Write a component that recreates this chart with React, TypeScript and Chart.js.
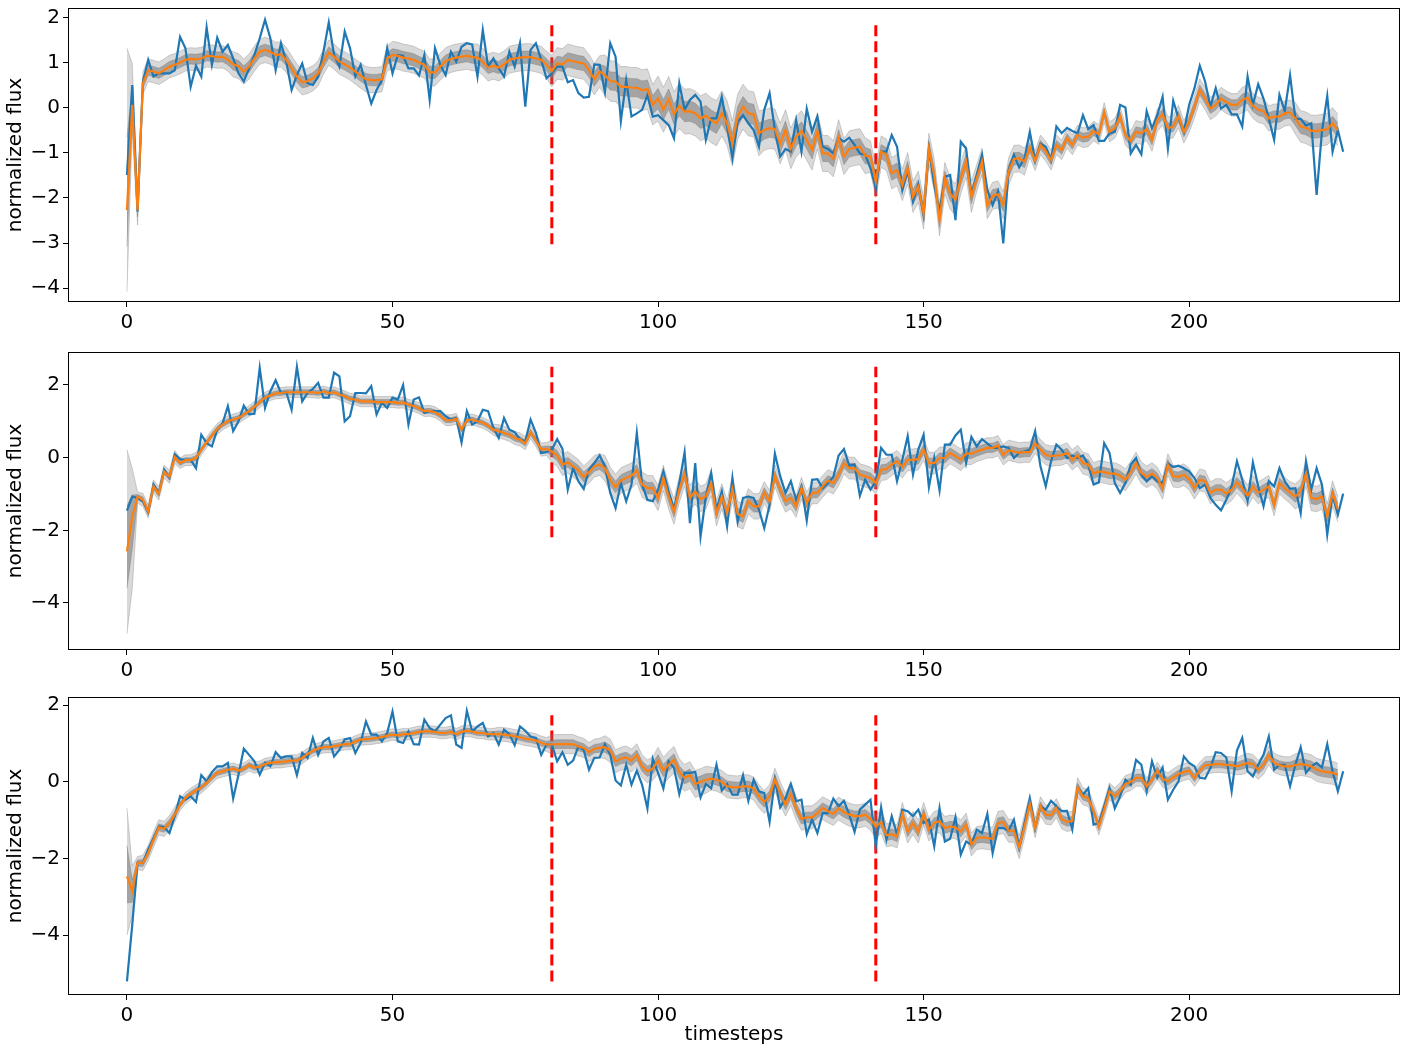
import React, { useEffect, useRef } from 'react';
import { Chart, registerables } from 'chart.js';

Chart.register(...registerables);
Chart.defaults.font.family = 'DejaVu Sans';
Chart.defaults.color = '#000';

// ---------- data ----------
const xTicks = [0, 50, 100, 150, 200];
const redX = [80, 141];

// panel 1
const p1Blue = [
  -1.49, 0.51, -2.3, 0.58, 1.07, 0.7, 0.77, 0.77, 0.77, 0.84,
  1.58, 1.33, 0.47, 0.94, 0.7, 1.79, 0.96, 1.56, 1.25, 1.4,
  1.1, 0.77, 0.59, 0.88, 1.18, 1.55, 1.96, 1.55, 0.84, 1.44,
  1.03, 0.4, 0.73, 0.99, 0.55, 0.51, 0.7, 1.25, 1.9, 1.18,
  0.92, 1.7, 1.33, 0.7, 0.96, 0.51, 0.1, 0.4, 0.62, 1.33,
  0.77, 1.18, 1.16, 0.88, 0.88, 0.72, 1.18, 0.18, 1.33, 0.96,
  0.73, 1.25, 1.03, 1.36, 1.44, 1.41, 0.7, 1.73, 0.92, 1.1,
  0.88, 0.7, 1.25, 0.92, 1.44, 0.03, 1.29, 1.44, 1.07, 0.66,
  0.77, 0.92, 0.92, 0.57, 0.62, 0.33, 0.23, 0.25, 0.97, 0.96,
  0.35, 1.44, 1.14, -0.29, 0.62, -0.19, -0.12, -0.04, 0.29, -0.19,
  -0.16, -0.27, -0.38, -0.67, 0.55, -0.04, 0.18, 0.29, 0.14, -0.71,
  -0.23, -0.23, 0.25, -0.41, -1.12, -0.3, -0.16, -0.34, -0.49, -0.86,
  -0.04, 0.33, -0.49, -1.08, -0.91, -0.97, -0.27, -0.97, -0.02, -0.53,
  -0.19, -0.86, -0.91, -1.01, -0.67, -0.75, -0.66, -0.82, -1.01, -1.04,
  -1.34, -1.79, -0.97, -0.97, -0.6, -0.86, -1.82, -1.38, -2.08, -1.71,
  -2.38, -0.9, -1.71, -2.3, -1.53, -1.49, -2.49, -0.75, -0.9, -1.93,
  -1.49, -1.04, -1.82, -2.16, -1.86, -3.01, -1.38, -1.04, -1.32, -1.12,
  -0.53, -1.16, -0.79, -0.86, -1.16, -0.41, -0.56, -0.44, -0.51, -0.56,
  -0.16, -0.47, -0.38, -0.73, -0.73, -0.56, -0.53, 0.07, 0.01, -1.01,
  -0.82, -1.03, -0.07, -0.45, -0.16, 0.25, -0.9, 0.16, -0.23, -0.53,
  0.07, 0.44, 0.94, 0.59, 0.03, 0.44, -0.01, 0.07, -0.14, -0.14,
  -0.41, 0.7, 0.07, 0.53, 0.21, -0.23, -0.71, 0.29, -0.07, 0.73,
  -0.24, -0.24, -0.39, -0.34, -1.93, -0.53, 0.27, -0.97, -0.49, -0.97,
];
const p1Mean = [
  -2.27, 0.07, -2.27, 0.55, 0.84, 0.81, 0.77, 0.84, 0.92, 0.96,
  1.01, 1.07, 1.09, 1.08, 1.1, 1.16, 1.15, 1.13, 1.14, 1.07,
  0.97, 0.93, 0.81, 0.92, 1.1, 1.25, 1.29, 1.25, 1.18, 1.19,
  1.07, 0.88, 0.7, 0.57, 0.6, 0.66, 0.77, 1.03, 1.23, 1.14,
  1.03, 0.97, 0.9, 0.81, 0.72, 0.64, 0.62, 0.62, 0.64, 1.1,
  1.18, 1.16, 1.12, 1.1, 1.07, 1.01, 0.96, 0.79, 0.79, 0.92,
  1.04, 1.09, 1.12, 1.14, 1.16, 1.13, 1.12, 1.03, 0.9, 0.94,
  0.9, 0.97, 1.07, 1.1, 1.12, 1.13, 1.13, 1.1, 1.07, 0.96,
  0.82, 0.99, 0.97, 1.07, 1.04, 1.01, 0.99, 0.84, 0.64, 0.81,
  0.73, 0.6, 0.59, 0.47, 0.47, 0.45, 0.45, 0.4, 0.42, 0.07,
  0.21, -0.04, 0.2, -0.14, 0.05, -0.08, -0.07, -0.12, -0.23, -0.17,
  -0.27, -0.34, -0.12, -0.34, -0.79, -0.19, 0.03, -0.12, -0.14, -0.56,
  -0.49, -0.45, -0.47, -0.79, -0.49, -0.9, -0.64, -0.51, -0.71, -0.93,
  -0.51, -1.01, -1.01, -1.13, -0.66, -1.08, -0.91, -0.88, -0.86, -1.06,
  -1.08, -1.64, -0.97, -1.04, -1.45, -1.38, -1.71, -1.34, -1.97, -1.75,
  -2.34, -0.91, -1.49, -2.49, -1.56, -1.9, -2.04, -1.56, -1.19, -1.97,
  -1.56, -1.19, -2.16, -1.95, -1.92, -2.16, -1.41, -1.13, -1.12, -1.19,
  -0.88, -1.17, -0.82, -0.96, -1.16, -0.82, -0.93, -0.67, -0.82, -0.6,
  -0.66, -0.64, -0.51, -0.59, -0.1, -0.53, -0.45, -0.19, -0.6, -0.73,
  -0.53, -0.56, -0.47, -0.71, -0.27, -0.14, -0.45, -0.41, -0.19, -0.53,
  -0.3, 0.03, 0.4, 0.21, -0.01, 0.07, 0.21, 0.13, 0.07, 0.07,
  0.18, 0.23, 0.05, -0.04, -0.07, -0.23, -0.19, -0.19, -0.12, -0.1,
  -0.23, -0.41, -0.44, -0.51, -0.51, -0.49, -0.47, -0.34, -0.49,
];
// half-width of the sample spread, one value per 10 timesteps
const p1Spread = [0.25, 0.25, 0.28, 0.28, 0.28, 0.3, 0.3, 0.3, 0.35, 0.45, 0.5, 0.5, 0.45, 0.4, 0.35, 0.35, 0.3, 0.22, 0.22, 0.25, 0.25, 0.28, 0.35];
const p1HeadHi = [1.33, 0.99, -1.95];
const p1HeadLo = [-4.08, -0.5, -2.6];
const p1Red = [-3.03, 1.93];
const p1YTicks = [-4, -3, -2, -1, 0, 1, 2];

// panel 2
const p2Blue = [
  -1.46, -1.07, -1.11, -1.2, -1.51, -0.74, -0.97, -0.33, -0.56, 0.1,
  -0.04, -0.06, -0.06, -0.29, 0.63, 0.4, 0.31, 0.77, 0.94, 1.42,
  0.73, 1.0, 1.43, 1.19, 1.21, 2.47, 1.37, 1.83, 2.13, 1.78,
  1.8, 1.32, 2.5, 1.55, 1.78, 1.89, 2.06, 1.65, 1.65, 2.34,
  2.24, 1.0, 1.14, 1.78, 1.78, 1.77, 1.97, 1.19, 1.51, 1.37,
  1.65, 1.6, 2.0, 0.91, 1.6, 1.66, 1.23, 1.28, 1.28, 1.28,
  1.14, 1.05, 1.09, 0.42, 1.28, 0.91, 1.0, 1.32, 1.28, 0.82,
  0.54, 1.09, 0.77, 0.7, 0.5, 0.45, 1.05, 0.68, 0.13, 0.15,
  0.22, 0.51, 0.24, -0.88, -0.29, -0.65, -0.86, -0.33, -0.15, 0.06,
  -0.24, -0.97, -1.39, -0.7, -1.2, -0.74, 0.68, -0.74, -1.16, -1.2,
  -0.88, -0.38, -0.93, -1.43, -0.7, 0.15, -1.8, -0.15, -2.17, -1.07,
  -0.42, -1.43, -0.93, -1.89, -0.56, -1.76, -1.11, -1.07, -1.11, -1.43,
  -1.94, -1.3, 0.11, -0.51, -0.97, -0.65, -1.16, -0.79, -1.73, -0.61,
  -0.59, -0.84, -0.7, -0.53, 0.06, 0.24, -0.22, -0.19, -1.05, -0.61,
  -0.88, -0.65, 0.27, 0.08, 0.08, -0.65, -0.06, 0.59, -0.47, 0.22,
  0.63, -0.81, -0.01, -0.9, 0.36, 0.36, 0.61, 0.77, -0.15, 0.57,
  0.31, 0.51, 0.39, 0.27, 0.27, 0.31, 0.27, -0.01, 0.13, 0.17,
  0.22, 0.73, -0.24, -0.79, -0.1, 0.36, 0.22, -0.01, 0.06, -0.01,
  0.06, -0.19, -0.74, -0.68, 0.4, 0.13, -0.7, -0.97, -0.7, -0.19,
  -0.01, -0.47, -0.65, -0.51, -0.65, -0.7, -0.15, -0.26, -0.22, -0.29,
  -0.38, -0.56, -0.84, -0.74, -1.11, -1.3, -1.45, -1.16, -0.79, -0.1,
  -0.61, -1.2, -0.13, -0.79, -1.34, -0.65, -0.79, -0.29, -0.65, -0.86,
  -0.84, -1.53, -0.1, -0.88, -0.29, -0.74, -2.12, -1.02, -1.57, -0.99,
];
const p2Mean = [
  -2.58, -1.62, -1.07, -1.16, -1.48, -0.79, -0.99, -0.38, -0.53, 0.02,
  -0.15, -0.07, -0.07, -0.01, 0.22, 0.42, 0.61, 0.79, 0.91, 1.0,
  1.05, 1.09, 1.19, 1.28, 1.4, 1.53, 1.65, 1.72, 1.77, 1.78,
  1.8, 1.8, 1.8, 1.8, 1.8, 1.8, 1.78, 1.82, 1.78, 1.8,
  1.74, 1.69, 1.62, 1.6, 1.55, 1.55, 1.55, 1.53, 1.53, 1.53,
  1.53, 1.51, 1.52, 1.46, 1.42, 1.36, 1.28, 1.29, 1.25, 1.16,
  1.03, 1.03, 1.07, 0.77, 1.03, 1.05, 1.0, 0.96, 0.88, 0.77,
  0.73, 0.68, 0.63, 0.54, 0.5, 0.4, 0.7, 0.48, 0.22, 0.24,
  0.17, 0.06, -0.19, -0.13, -0.24, -0.35, -0.53, -0.4, -0.24, -0.19,
  -0.29, -0.61, -0.81, -0.63, -0.56, -0.5, -0.35, -0.74, -0.84, -0.84,
  -1.11, -0.56, -1.07, -1.48, -0.88, -0.44, -1.11, -0.93, -1.14, -1.07,
  -0.7, -1.53, -1.07, -1.53, -0.86, -1.55, -1.62, -1.2, -1.34, -1.34,
  -0.96, -1.2, -0.5, -0.88, -1.2, -1.11, -1.34, -0.84, -1.25, -0.97,
  -0.97, -0.79, -0.63, -0.7, -0.47, -0.15, -0.29, -0.29, -0.47, -0.51,
  -0.56, -0.7, -0.33, -0.31, -0.19, -0.1, -0.26, -0.06, -0.06, -0.04,
  0.22, -0.15, -0.15, -0.01, -0.01, 0.13, 0.04, -0.06, 0.11, 0.11,
  0.17, 0.22, 0.27, 0.27, 0.33, 0.08, 0.2, 0.17, 0.13, 0.15,
  0.15, 0.4, 0.22, 0.08, 0.04, 0.06, 0.07, 0.13, -0.06, 0.06,
  -0.15, -0.19, -0.44, -0.38, -0.4, -0.44, -0.44, -0.5, -0.61, -0.4,
  -0.15, -0.42, -0.53, -0.44, -0.56, -0.84, -0.19, -0.51, -0.53, -0.47,
  -0.59, -0.84, -0.61, -0.65, -0.97, -0.88, -0.88, -0.99, -0.88, -0.68,
  -0.84, -1.05, -0.79, -0.97, -0.88, -0.79, -1.3, -0.7, -0.84, -0.96,
  -1.07, -0.93, -0.44, -1.11, -1.14, -1.07, -1.62, -0.99, -1.42,
];
const p2Spread = [0.18, 0.15, 0.15, 0.15, 0.15, 0.15, 0.15, 0.18, 0.3, 0.35, 0.35, 0.35, 0.3, 0.3, 0.3, 0.3, 0.28, 0.28, 0.3, 0.3, 0.3, 0.3, 0.35];
const p2HeadHi = [0.22, -0.3, -0.95];
const p2HeadLo = [-4.85, -3.6, -1.25];
const p2Red = [-2.19, 2.5];
const p2YTicks = [-4, -2, 0, 2];

// panel 3
const p3Blue = [
  -5.21, -3.73, -2.12, -2.12, -1.77, -1.47, -1.17, -1.19, -1.34, -0.9,
  -0.38, -0.47, -0.38, -0.53, 0.17, 0.01, 0.25, 0.4, 0.4, 0.49,
  -0.44, 0.18, 0.86, 0.7, 0.53, 0.18, 0.49, 0.4, 0.77, 0.62,
  0.66, 0.66, 0.17, 0.75, 0.62, 1.14, 0.7, 1.05, 1.14, 0.66,
  0.83, 1.1, 1.14, 0.75, 1.01, 1.57, 1.23, 1.23, 1.05, 1.27,
  1.83, 1.05, 1.01, 1.31, 0.98, 0.97, 1.62, 1.4, 1.31, 1.49,
  1.66, 1.73, 0.97, 0.88, 1.85, 1.31, 1.44, 1.53, 1.18, 1.27,
  0.97, 1.36, 1.24, 0.95, 1.44, 1.33, 1.18, 1.14, 0.7, 0.97,
  0.97, 0.53, 0.77, 0.44, 0.55, 0.92, 0.83, 0.31, 0.62, 0.63,
  0.97, 0.7, 0.03, -0.1, 0.44, -0.08, 0.29, -0.08, -0.7, 0.6,
  0.23, -0.18, 0.53, 0.36, -0.32, 0.23, 0.23, 0.25, -0.41, -0.06,
  -0.17, 0.44, -0.23, -0.06, -0.34, -0.34, 0.17, -0.5, 0.05, -0.25,
  -0.3, -1.05, 0.05, -0.67, -0.43, -0.06, -0.51, -0.47, -1.37, -0.99,
  -1.34, -0.82, -0.82, -0.44, -0.64, -0.5, -0.86, -1.31, -0.73, -0.6,
  -0.47, -1.69, -0.67, -1.51, -0.9, -1.38, -0.73, -0.77, -0.9, -0.73,
  -1.08, -0.99, -1.69, -0.69, -1.56, -1.49, -0.93, -1.9, -1.56, -1.64,
  -1.25, -1.34, -0.84, -1.86, -1.21, -1.21, -1.28, -0.99, -1.71, -1.08,
  -0.44, -1.21, -0.64, -0.73, -0.5, -0.64, -0.77, -0.76, -1.25, -0.15,
  -0.34, -0.17, -1.12, -1.08, -0.64, -0.17, -0.7, -0.38, 0.05, -0.08,
  0.57, 0.44, -0.25, 0.53, 0.1, 0.37, -0.47, -0.21, 0.01, 0.66,
  0.49, 0.4, 0.1, 0.08, 0.36, 0.77, 0.75, 0.63, -0.25, 0.81,
  1.14, 0.27, 0.14, 0.44, 0.7, 1.18, 0.31, 0.44, 0.44, -0.12,
  0.44, 0.9, 0.23, 0.4, 0.49, 0.37, 0.98, 0.27, -0.25, 0.27,
];
const p3Mean = [
  -2.47, -2.86, -2.12, -2.12, -1.86, -1.51, -1.19, -1.23, -1.08, -0.86,
  -0.6, -0.43, -0.32, -0.23, -0.15, -0.03, 0.11, 0.23, 0.27, 0.31,
  0.34, 0.29, 0.34, 0.43, 0.37, 0.39, 0.46, 0.49, 0.51, 0.51,
  0.53, 0.55, 0.55, 0.62, 0.72, 0.81, 0.86, 0.9, 0.9, 0.92,
  0.95, 0.98, 0.98, 1.05, 1.1, 1.11, 1.12, 1.14, 1.16, 1.2,
  1.23, 1.21, 1.24, 1.24, 1.27, 1.3, 1.31, 1.31, 1.3, 1.27,
  1.27, 1.3, 1.24, 1.3, 1.33, 1.31, 1.27, 1.27, 1.24, 1.24,
  1.24, 1.23, 1.21, 1.18, 1.16, 1.12, 1.1, 1.07, 1.01, 0.97,
  0.97, 0.98, 0.98, 0.98, 0.98, 0.92, 0.88, 0.77, 0.86, 0.88,
  0.9, 0.81, 0.53, 0.6, 0.63, 0.55, 0.69, 0.4, 0.27, 0.34,
  0.55, 0.29, 0.44, 0.57, 0.25, 0.1, 0.17, -0.06, -0.01, 0.05,
  0.08, 0.05, -0.01, -0.12, -0.14, -0.15, -0.12, -0.12, -0.18, -0.38,
  -0.53, -0.38, 0.05, -0.3, -0.6, -0.32, -0.69, -0.97, -0.93, -0.93,
  -0.82, -0.69, -0.77, -0.84, -0.7, -0.79, -0.86, -0.9, -0.9, -0.86,
  -0.97, -1.17, -1.05, -1.4, -1.37, -1.43, -0.84, -1.3, -1.08, -1.3,
  -0.84, -1.25, -1.08, -1.03, -1.21, -1.17, -1.19, -1.3, -1.12, -1.64,
  -1.47, -1.45, -1.47, -1.49, -1.08, -1.05, -1.28, -1.28, -1.71, -1.17,
  -0.58, -1.21, -0.64, -0.86, -0.88, -0.69, -0.98, -1.05, -1.02, -0.15,
  -0.38, -0.43, -0.77, -1.17, -0.73, -0.25, -0.38, -0.25, -0.06, -0.01,
  0.1, 0.1, -0.12, 0.05, 0.29, 0.08, 0.01, 0.11, 0.2, 0.25,
  0.29, 0.1, 0.29, 0.43, 0.44, 0.46, 0.46, 0.44, 0.43, 0.4,
  0.44, 0.49, 0.46, 0.31, 0.44, 0.69, 0.49, 0.43, 0.4, 0.4,
  0.43, 0.46, 0.44, 0.4, 0.31, 0.27, 0.25, 0.23, 0.18,
];
const p3Spread = [0.2, 0.15, 0.15, 0.15, 0.15, 0.15, 0.15, 0.18, 0.25, 0.3, 0.35, 0.3, 0.3, 0.3, 0.3, 0.3, 0.3, 0.25, 0.22, 0.22, 0.22, 0.25, 0.3];
const p3HeadHi = [-0.69, -2.2, -1.95];
const p3HeadLo = [-4.0, -3.5, -2.3];
const p3Red = [-5.21, 1.73];
const p3YTicks = [-4, -2, 0, 2];

// ---------- layout / styling ----------
const W = 1411;
const X_MIN = -11.1;
const X_MAX = 239.7;
const FONT = { family: 'DejaVu Sans', size: 20 };
const BLUE = '#1f77b4';
const ORANGE = '#ff7f0e';

type PanelCfg = {
  top: number; height: number; padTop: number; xAxisH: number;
  yMin: number; yMax: number; yTicks: number[]; xTitle: boolean;
  blue: number[]; mean: number[]; spread: number[]; headHi: number[]; headLo: number[]; red: number[];
};

const panels: PanelCfg[] = [
  { top: 0, height: 345, padTop: 8, xAxisH: 43, yMin: -4.311, yMax: 2.222, yTicks: p1YTicks, xTitle: false,
    blue: p1Blue, mean: p1Mean, spread: p1Spread, headHi: p1HeadHi, headLo: p1HeadLo, red: p1Red },
  { top: 345, height: 350, padTop: 7, xAxisH: 45, yMin: -5.294, yMax: 2.908, yTicks: p2YTicks, xTitle: false,
    blue: p2Blue, mean: p2Mean, spread: p2Spread, headHi: p2HeadHi, headLo: p2HeadLo, red: p2Red },
  { top: 695, height: 356, padTop: 2, xAxisH: 56, yMin: -5.565, yMax: 2.209, yTicks: p3YTicks, xTitle: true,
    blue: p3Blue, mean: p3Mean, spread: p3Spread, headHi: p3HeadHi, headLo: p3HeadLo, red: p3Red },
];

const pts = (arr: number[]) => arr.map((y, x) => ({ x, y }));

function bandEdges(mean: number[], spread: number[], headHi: number[], headLo: number[], k: number) {
  const hi: number[] = [];
  const lo: number[] = [];
  mean.forEach((v, i) => {
    if (i < headHi.length) {
      hi.push(v + (headHi[i] - v) * k);
      lo.push(v + (headLo[i] - v) * k);
    } else {
      const s = spread[Math.floor(i / 10)] * k;
      hi.push(v + s);
      lo.push(v - s);
    }
  });
  return { hi, lo };
}

const fmt = (v: any) => String(v).replace('-', '\u2212');

const boxPlugin = {
  id: 'box',
  afterDraw(chart: any) {
    const { ctx, chartArea: a } = chart;
    ctx.save();
    ctx.strokeStyle = '#000';
    ctx.lineWidth = 1;
    ctx.strokeRect(Math.round(a.left) + 0.5, Math.round(a.top) + 0.5, Math.round(a.right - a.left) - 1, Math.round(a.bottom - a.top) - 1);
    ctx.restore();
  },
};

function buildConfig(p: PanelCfg): any {
  const outer = bandEdges(p.mean, p.spread, p.headHi, p.headLo, 1);
  const inner = bandEdges(p.mean, p.spread, p.headHi, p.headLo, 0.45);
  const lineBase = { pointRadius: 0, tension: 0, fill: false };
  const datasets: any[] = [
    { ...lineBase, data: pts(p.mean), borderColor: ORANGE, borderWidth: 2.2 },
    { ...lineBase, data: pts(p.blue), borderColor: BLUE, borderWidth: 2.2 },
    { ...lineBase, data: pts(inner.hi), borderColor: 'rgba(120,120,120,0.4)', borderWidth: 1, fill: '+1', backgroundColor: 'rgba(128,128,128,0.6)' },
    { ...lineBase, data: pts(inner.lo), borderColor: 'rgba(120,120,120,0.4)', borderWidth: 1 },
    { ...lineBase, data: pts(outer.hi), borderColor: 'rgba(128,128,128,0.35)', borderWidth: 1, fill: '+1', backgroundColor: 'rgba(128,128,128,0.3)' },
    { ...lineBase, data: pts(outer.lo), borderColor: 'rgba(128,128,128,0.35)', borderWidth: 1 },
    ...redX.map((x) => ({
      ...lineBase,
      data: [{ x, y: p.red[0] }, { x, y: p.red[1] }],
      borderColor: '#ff0000', borderWidth: 3, borderDash: [11, 5],
    })),
  ];
  return {
    type: 'line',
    data: { datasets },
    plugins: [boxPlugin],
    options: {
      animation: false,
      responsive: false,
      events: [],
      layout: { padding: { left: 0, right: W - 1400, top: p.padTop, bottom: 0 } },
      plugins: { legend: { display: false }, tooltip: { enabled: false } },
      scales: {
        x: {
          type: 'linear', min: X_MIN, max: X_MAX,
          afterFit: (s: any) => { s.height = p.xAxisH; s.paddingLeft = 0; s.paddingRight = 0; },
          afterBuildTicks: (s: any) => { s.ticks = xTicks.map((value) => ({ value })); },
          grid: { drawOnChartArea: false, drawTicks: true, tickLength: 5, color: '#000' },
          border: { display: false },
          ticks: { font: FONT, color: '#000', padding: 4, maxRotation: 0, autoSkip: false, callback: fmt },
          title: { display: p.xTitle, text: 'timesteps', font: FONT, color: '#000', padding: { top: 0, bottom: 4 } },
        },
        y: {
          type: 'linear', min: p.yMin, max: p.yMax,
          afterFit: (s: any) => { s.width = 68; s.paddingTop = 0; s.paddingBottom = 0; },
          afterBuildTicks: (s: any) => { s.ticks = p.yTicks.map((value) => ({ value })); },
          grid: { drawOnChartArea: false, drawTicks: true, tickLength: 5, color: '#000' },
          border: { display: false },
          ticks: { font: FONT, color: '#000', padding: 3, autoSkip: false, callback: fmt },
          title: { display: true, text: 'normalized flux', font: FONT, color: '#000', padding: { top: 4, bottom: 4 } },
        },
      },
    },
  };
}

function Panel({ cfg }: { cfg: PanelCfg }) {
  const ref = useRef<HTMLCanvasElement>(null);
  useEffect(() => {
    const chart = new Chart(ref.current as HTMLCanvasElement, buildConfig(cfg));
    return () => chart.destroy();
  }, [cfg]);
  return (
    <canvas
      ref={ref}
      width={W}
      height={cfg.height}
      style={{ position: 'absolute', left: 0, top: cfg.top, width: W, height: cfg.height, display: 'block' }}
    />
  );
}

export default function App() {
  return (
    <div style={{ position: 'absolute', left: 0, top: 0, width: W, height: 1051, background: '#fff' }}>
      {panels.map((p, i) => (
        <Panel key={i} cfg={p} />
      ))}
    </div>
  );
}
